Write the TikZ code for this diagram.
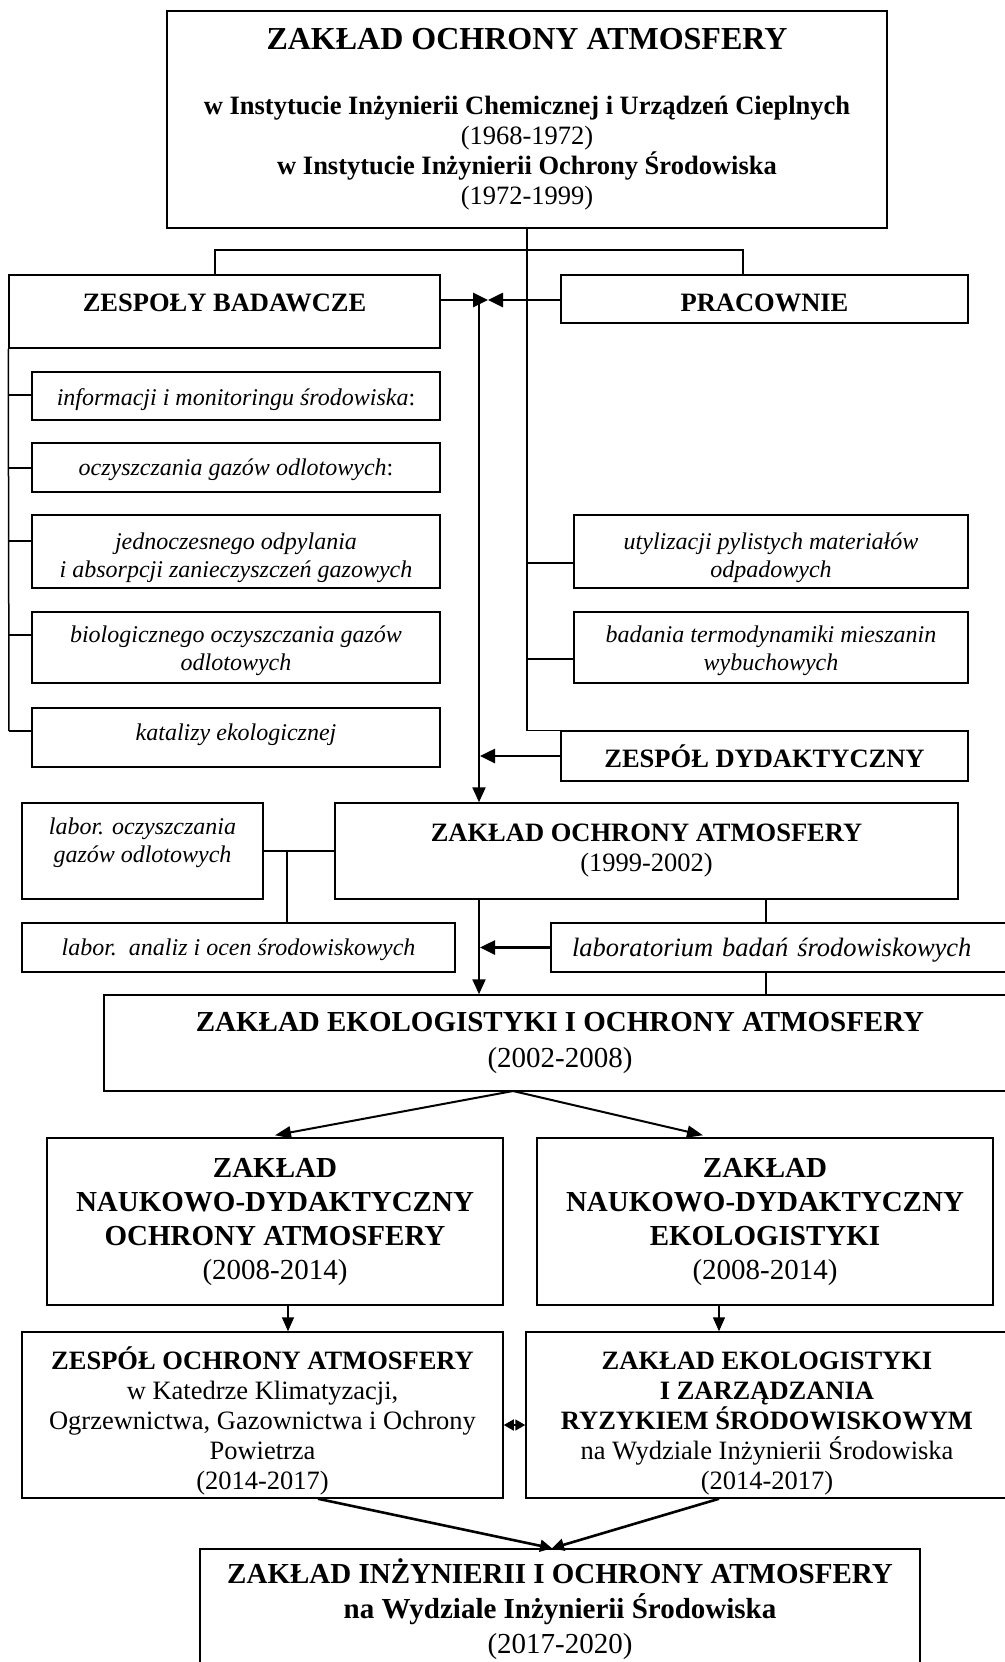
\documentclass[tikz,border=0pt]{standalone}
\usepackage{fontspec}
\setmainfont{Liberation Serif}
\usetikzlibrary{arrows.meta}

\newcommand\fonttitle{\fontsize{32}{36}\selectfont\bfseries}
\newcommand\fontbig{\fontsize{29}{34}\selectfont}
\newcommand\fontmid{\fontsize{26.5}{30}\selectfont}
\newcommand\fontit{\fontsize{24}{28}\selectfont\itshape}
\newcommand\strutup[1]{\rule{0pt}{#1}}
\newcommand\strutdn[1]{\rule[-#1]{0pt}{#1}}

\tikzset{
  box/.style={draw, line width=1.5pt, fill=white, align=center, inner sep=2pt},
  link/.style={line width=1.5pt},
  harrow/.style={line width=2.6pt, -{Triangle[length=15pt,width=14pt]}},
  varrow/.style={line width=2.3pt, -{Triangle[length=15pt,width=13pt]}},
  darrow/.style={line width=2pt, -{Triangle[length=16pt,width=12pt]}},
  sarrow/.style={line width=1.5pt, -{Triangle[length=14pt,width=12pt]}},
  farrow/.style={line width=2.6pt, -{Triangle[length=12pt,width=12pt]}},
  twoway/.style={line width=1.5pt, {Triangle[length=10pt,width=11pt]}-{Triangle[length=10pt,width=11pt]}}
}

\begin{document}
\begin{tikzpicture}[x=1pt,y=-1pt]
  \path[use as bounding box, fill=white] (0,0) rectangle (1004,1662);

  % 1968-1999
  \node[box, minimum width=720, minimum height=217, font=\fontmid\bfseries] (zoa) at (527,119.5)
    {{\fonttitle ZAKŁAD OCHRONY ATMOSFERY}\\[35pt]
     w Instytucie Inżynierii Chemicznej i Urządzeń Cieplnych\\
     {\mdseries (1968-1972)}\\
     w Instytucie Inżynierii Ochrony Środowiska\\
     {\mdseries (1972-1999)}};
  \node[box, minimum width=431, minimum height=73, font=\fontmid\bfseries] (bad) at (224.5,311.5) {ZESPOŁY BADAWCZE\strutdn{17pt}};
  \node[box, minimum width=407, minimum height=48, font=\fontmid\bfseries] (pra) at (764.5,299) {\strutup{26pt}PRACOWNIE};

  \node[box, minimum width=408, minimum height=48, font=\fontit] (b1) at (236,396) {\strutup{24pt}informacji i monitoringu środowiska\textup{:}};
  \node[box, minimum width=408, minimum height=49, font=\fontit] (b2) at (236,467.5) {\strutup{22pt}oczyszczania gazów odlotowych\textup{:}};
  \node[box, minimum width=408, minimum height=73, font=\fontit] (b3) at (236,551.5) {\strutup{29pt}jednoczesnego odpylania\\i absorpcji zanieczyszczeń gazowych};
  \node[box, minimum width=408, minimum height=71, font=\fontit] (b4) at (236,647.5) {\strutup{24pt}biologicznego oczyszczania gazów\\odlotowych};
  \node[box, minimum width=408, minimum height=59, font=\fontit] (b5) at (236,737.5) {katalizy ekologicznej\strutdn{11pt}};

  \node[box, minimum width=394, minimum height=73, font=\fontit] (p1) at (771,551.5) {\strutup{29pt}utylizacji pylistych materiałów\\odpadowych};
  \node[box, minimum width=394, minimum height=71, font=\fontit] (p2) at (771,647.5) {\strutup{24pt}badania termodynamiki mieszanin\\wybuchowych};
  \node[box, minimum width=407, minimum height=50, font=\fontmid\bfseries] (dyd) at (764.5,756) {ZESPÓŁ DYDAKTYCZNY};

  % 1999-2008
  \node[box, minimum width=623, minimum height=96, font=\fontmid] (zoa99) at (646.5,851) {\textbf{ZAKŁAD OCHRONY ATMOSFERY}\\(1999-2002)};
  \node[box, minimum width=241, minimum height=96, font=\fontit] (lab1) at (142.5,851) {labor. oczyszczania\\gazów odlotowych\strutdn{21pt}};
  \node[box, minimum width=433, minimum height=49, font=\fontit] (lab2) at (238.5,947.5) {\strutup{22pt}labor.\ \ analiz i ocen środowiskowych};
  \node[box, minimum width=459, minimum height=49, text width=417, inner xsep=21, align=left, font=\fontmid\itshape] (lab3) at (780.5,947.5) {\strutup{24pt}laboratorium badań środowiskowych};
  \node[box, minimum width=912, minimum height=96, font=\fontbig] (eko) at (560,1043) {\textbf{ZAKŁAD EKOLOGISTYKI I OCHRONY ATMOSFERY}\\[2pt](2002-2008)};

  % 2008-2020
  \node[box, minimum width=456, minimum height=167, font=\fontbig\bfseries] (nad1) at (275,1221.5) {ZAKŁAD\\NAUKOWO-DYDAKTYCZNY\\OCHRONY ATMOSFERY\\{\mdseries (2008-2014)}};
  \node[box, minimum width=456, minimum height=167, font=\fontbig\bfseries] (nad2) at (765,1221.5) {ZAKŁAD\\NAUKOWO-DYDAKTYCZNY\\EKOLOGISTYKI\\{\mdseries (2008-2014)}};
  \node[box, minimum width=481, minimum height=166, font=\fontmid] (zesp) at (262.5,1415) {\strutup{35pt}\textbf{ZESPÓŁ OCHRONY ATMOSFERY}\\w Katedrze Klimatyzacji,\\Ogrzewnictwa, Gazownictwa i Ochrony\\Powietrza\\(2014-2017)};
  \node[box, minimum width=482, minimum height=166, font=\fontmid] (zeko) at (767,1415) {\strutup{35pt}\textbf{ZAKŁAD EKOLOGISTYKI}\\\textbf{I ZARZĄDZANIA}\\\textbf{RYZYKIEM ŚRODOWISKOWYM}\\na Wydziale Inżynierii Środowiska\\(2014-2017)};
  \node[box, minimum width=720, minimum height=121, font=\fontsize{29}{35}\selectfont\bfseries] (fin) at (560,1609.5) {ZAKŁAD INŻYNIERII I OCHRONY ATMOSFERY\\na Wydziale Inżynierii Środowiska\\{\mdseries (2017-2020)}};

  \coordinate (brL) at (215,250);
  \coordinate (brR) at (743,250);
  \coordinate (jn) at (479,300);
  \coordinate (lj) at (287,851);
  \coordinate (rx) at (766,0);
  \coordinate (ek) at (513,1091);

  \draw[link] (zoa.south) -- (zoa.south |- dyd.north) -- (dyd.north west);
  \draw[link] (brL |- bad.north) -- (brL) -- (brR) -- (brR |- pra.north);
  \draw[link] (bad.south west) -- (9,731);
  \foreach \n/\y in {b1/395,b2/468,b3/541,b4/635,b5/731}
    \draw[link] (9,\y) -- (\n.west |- 0,\y);
  \foreach \n/\y in {p1/563,p2/659}
    \draw[link] (zoa.south |- 0,\y) -- (\n.west |- 0,\y);

  \draw[harrow] (bad.east |- jn) -- ([xshift=9pt]jn);
  \draw[harrow] (pra.west |- jn) -- ([xshift=9pt]jn);
  \draw[varrow] (jn) -- (jn |- zoa99.north);
  \draw[harrow] (dyd.west) -- ([xshift=1pt]dyd.west -| jn);

  \draw[link] (lab1.east) -- (zoa99.west);
  \draw[link] (lj) -- (lj |- lab2.north);
  \draw[link] (rx |- zoa99.south) -- (rx |- lab3.north);
  \draw[link] (rx |- lab3.south) -- (rx |- eko.north);
  \draw[harrow] (lab3.west) -- ([xshift=1pt]lab3.west -| jn);
  \draw[varrow] (jn |- zoa99.south) -- (jn |- eko.north);

  \draw[darrow] (ek) -- ([yshift=2pt]nad1.north);
  \draw[darrow] (ek) -- ([xshift=-62pt,yshift=2pt]nad2.north);
  \draw[sarrow] ([xshift=13pt]nad1.south) -- ([xshift=13pt]nad1.south |- zesp.north);
  \draw[sarrow] ([xshift=-46pt]nad2.south) -- ([xshift=-46pt]nad2.south |- zeko.north);
  \draw[twoway] ([yshift=-10pt]zesp.east) -- ([yshift=-10pt]zeko.west);
  \draw[farrow] ([xshift=55.5pt]zesp.south) -- ([xshift=-8pt]fin.north);
  \draw[farrow] ([xshift=-48pt]zeko.south) -- ([xshift=-8pt]fin.north);
\end{tikzpicture}
\end{document}
